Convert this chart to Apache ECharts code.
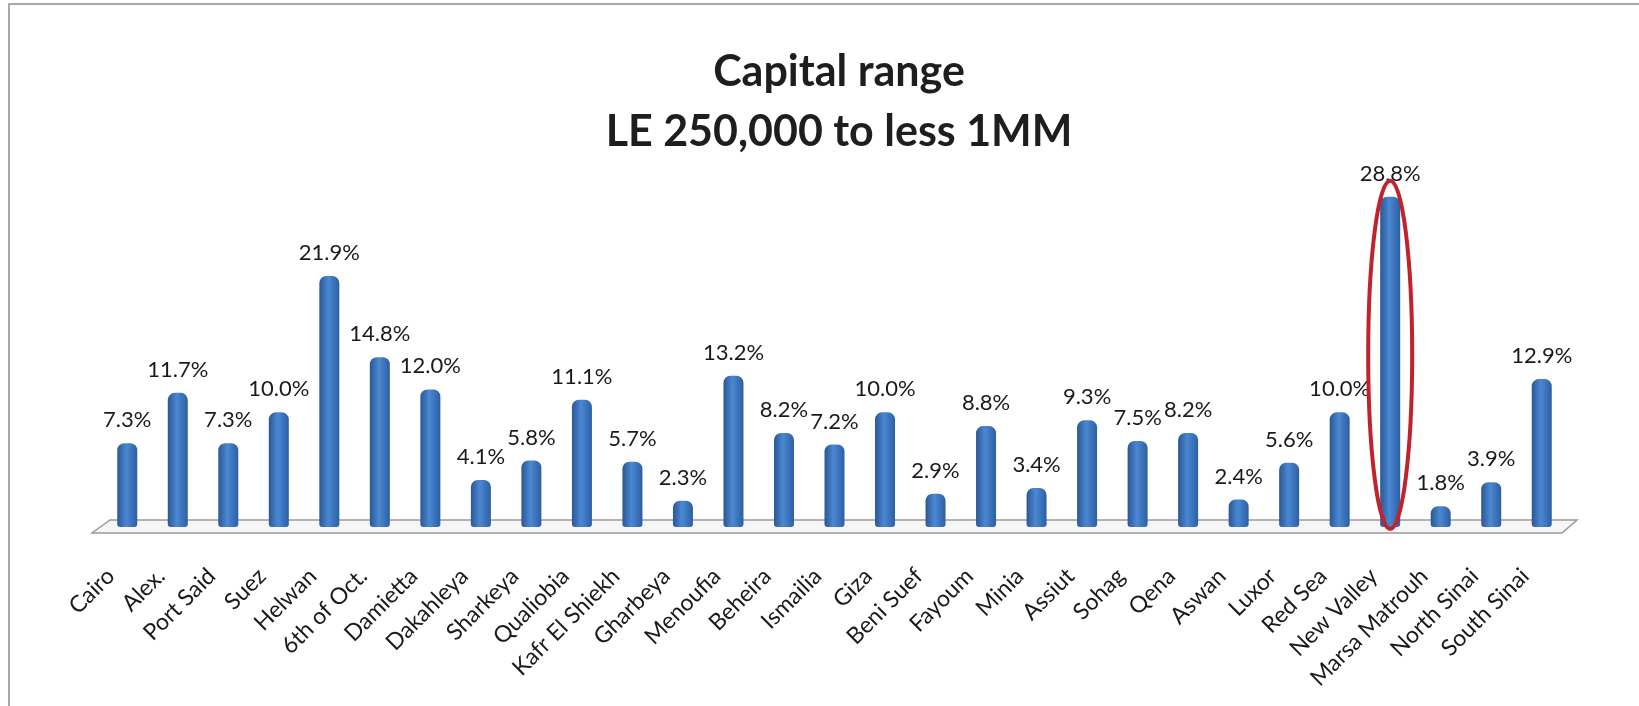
<!DOCTYPE html>
<html>
<head>
<meta charset="utf-8">
<title>Capital range</title>
<script src="https://cdn.jsdelivr.net/npm/echarts@6/dist/echarts.min.js"></script>
<style>
    html, body { margin: 0; padding: 0; background: #fff; }
    #chart { width: 1639px; height: 706px; }
</style>
</head>
<body>
<div id="chart"></div>
<script>
// chart data
const title_lines = ['Capital range', 'LE 250,000 to less 1MM'];

const governorates = [
    'Cairo', 'Alex.', 'Port Said', 'Suez', 'Helwan', '6th of Oct.', 'Damietta',
    'Dakahleya', 'Sharkeya', 'Qualiobia', 'Kafr El Shiekh', 'Gharbeya', 'Menoufia',
    'Beheira', 'Ismailia', 'Giza', 'Beni Suef', 'Fayoum', 'Minia', 'Assiut', 'Sohag',
    'Qena', 'Aswan', 'Luxor', 'Red Sea', 'New Valley', 'Marsa Matrouh', 'North Sinai',
    'South Sinai'
];

const shares = [
    7.3, 11.7, 7.3, 10.0, 21.9, 14.8, 12.0,
    4.1, 5.8, 11.1, 5.7, 2.3, 13.2,
    8.2, 7.2, 10.0, 2.9, 8.8, 3.4, 9.3, 7.5,
    8.2, 2.4, 5.6, 10.0, 28.8, 1.8, 3.9,
    12.9
];

const highlighted = 'New Valley';

// layout
const W = 1639;
const grid = { left: 102, right: 72, top: 183, bottom: 179 };
const font = 'Lato, "Open Sans", sans-serif';

let chart = echarts.init(document.getElementById('chart'));

let bar_color = new echarts.graphic.LinearGradient(0, 0, 1, 0, [
    { offset: 0, color: '#2a5795' },
    { offset: 0.45, color: '#4b88d2' },
    { offset: 1, color: '#2c5fa3' }
]);

let options = {
    backgroundColor: '#fff',
    animation: false,
    grid: grid,
    xAxis: {
        type: 'category',
        data: governorates,
        axisLine: { show: false },
        axisTick: { show: false },
        axisLabel: {
            interval: 0,
            rotate: 45,
            margin: 45,
            verticalAlign: 'bottom',
            padding: [0, 12, 0, 0],
            fontFamily: font,
            fontSize: 23,
            color: '#1a1a1a'
        }
    },
    yAxis: {
        type: 'value',
        min: 0,
        max: 30,
        show: false,
        splitLine: { show: false }
    },
    series: [{
        type: 'bar',
        data: shares,
        barWidth: 20,
        z: 5,
        itemStyle: {
            color: bar_color,
            borderRadius: [7, 7, 3, 3]
        },
        label: {
            show: true,
            position: 'top',
            distance: 12,
            fontFamily: font,
            fontSize: 22,
            color: '#1a1a1a',
            formatter: p => p.value.toFixed(1) + '%'
        }
    }]
};

chart.setOption(options);

/**
 * Title, floor, frame and the ring around the highlighted bar,
 * placed from the axes once the grid is laid out
 */
let base = chart.convertToPixel({ seriesIndex: 0 }, [0, 0])[1];
let gl = grid.left;
let gr = W - grid.right;

let hi = governorates.indexOf(highlighted);
let hi_top = chart.convertToPixel({ seriesIndex: 0 }, [hi, shares[hi]]);
let ring_top = hi_top[1] - 16;
let ring_bottom = base + 2;

let title_texts = title_lines.map((line, i) => ({
    type: 'text',
    x: 839,
    y: 72 + i * 60,
    z: 10,
    style: {
        text: line,
        align: 'center',
        verticalAlign: 'middle',
        font: 'bold 43px ' + font,
        fill: '#1e1e1e'
    }
}));

chart.setOption({
    graphic: title_texts.concat([
        {
            type: 'polyline',
            z: 0,
            shape: { points: [[9, 706], [9, 4], [W, 4]] },
            style: { stroke: '#a8a8a8', lineWidth: 2, fill: null }
        },
        {
            type: 'polygon',
            z: 1,
            shape: {
                points: [
                    [gl + 8, base - 7], [gr + 10, base - 7],
                    [gr - 5, base + 6], [gl - 10, base + 6]
                ]
            },
            style: { fill: '#f6f6f6', stroke: '#9c9a98', lineWidth: 1.5 }
        },
        {
            type: 'ellipse',
            z: 100,
            shape: {
                cx: hi_top[0],
                cy: (ring_top + ring_bottom) / 2,
                rx: 22,
                ry: (ring_bottom - ring_top) / 2
            },
            style: { fill: null, stroke: '#c0232b', lineWidth: 4 }
        }
    ])
});
</script>
</body>
</html>
